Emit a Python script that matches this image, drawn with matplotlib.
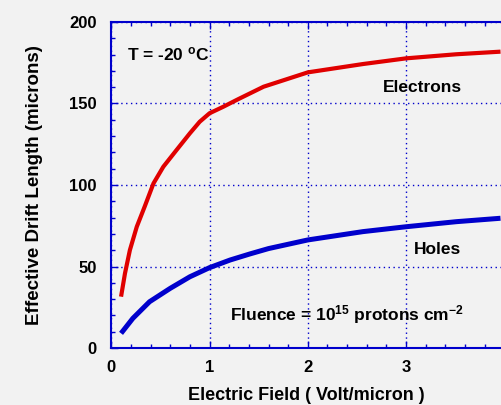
import matplotlib
matplotlib.use("Agg")
import matplotlib.pyplot as plt
from matplotlib.ticker import MultipleLocator

# values
field_e = [0.1, 0.14, 0.19, 0.26, 0.34, 0.43, 0.53, 0.665, 0.8, 0.9, 1.0,
           1.14, 1.29, 1.55, 2.0, 2.56, 3.0, 3.51, 3.96]
drift_e = [31.5, 45.8, 60.1, 74.4, 86.7, 101, 111.2, 121.5, 131.7, 138.8, 144,
           148, 152.6, 160.3, 169.1, 174.2, 177.7, 180.2, 181.8]

field_h = [0.1, 0.22, 0.39, 0.6, 0.8, 1.0, 1.21, 1.41, 1.6, 2.0, 2.56, 3.0,
           3.51, 3.96]
drift_h = [9, 18.2, 28.4, 36.6, 43.7, 49.3, 54, 57.7, 61, 66.3, 71.4, 74.4,
           77.5, 79.6]

x_ticks = [0, 1, 2, 3]
y_ticks = [0, 50, 100, 150, 200]

bg = "#f2f2f2"
axis_blue = "#0000cc"

plt.rcParams['font.family'] = ['Liberation Sans', 'DejaVu Sans']
plt.rcParams['font.weight'] = 'bold'

fig = plt.figure(figsize=(5.01, 4.05), dpi=100, facecolor=bg)
ax = fig.add_axes([0.222, 0.1407, 0.778, 0.805], facecolor=bg)

ax.plot(field_e, drift_e, color="#e00000", lw=3.0, solid_capstyle='butt',
        solid_joinstyle='round', zorder=3)
ax.plot(field_h, drift_h, color="#0000cc", lw=3.6, solid_capstyle='butt',
        solid_joinstyle='round', zorder=3)

ax.set_xlim(0, 3.965)
ax.set_ylim(0, 200)
ax.set_xticks(x_ticks)
ax.set_yticks(y_ticks)
ax.xaxis.set_minor_locator(MultipleLocator(0.2))
ax.yaxis.set_minor_locator(MultipleLocator(10))

ax.grid(True, which='major', color=axis_blue, linestyle=(0, (1, 2.5)), lw=1.0)
for side in ['left', 'top', 'bottom']:
    ax.spines[side].set_color(axis_blue)
    ax.spines[side].set_linewidth(1.5)
ax.spines['right'].set_visible(False)

ax.tick_params(which='both', direction='in', color=axis_blue, top=True, right=False)
ax.tick_params(which='major', length=5, width=1)
ax.tick_params(which='minor', length=3, width=1)
ax.tick_params(axis='y', which='major', pad=10.5, labelsize=12)
ax.tick_params(axis='x', which='major', pad=8.5, labelsize=12)
for lab in ax.get_xticklabels() + ax.get_yticklabels():
    lab.set_fontweight('bold')

ax.set_xlabel("Electric Field ( Volt/micron )", fontsize=13, fontweight='bold', labelpad=9)
ax.set_ylabel("Effective Drift Length (microns)", fontsize=13.5, fontweight='bold', labelpad=19)

ax.text(0.157, 180, r"T = -20 $\mathregular{^o}$C", fontsize=12.5, fontweight='bold', va='center')
ax.text(2.767, 159.7, "Electrons", fontsize=12.5, fontweight='bold', va='center')
ax.text(3.08, 60.5, "Holes", fontsize=12.5, fontweight='bold', va='center')
ax.text(1.21, 20.5, r"Fluence = 10$\mathregular{^{15}}$ protons cm$\mathregular{^{-2}}$",
        fontsize=12.5, fontweight='bold', va='center')

fig.savefig("out.png", dpi=100, facecolor=bg)
